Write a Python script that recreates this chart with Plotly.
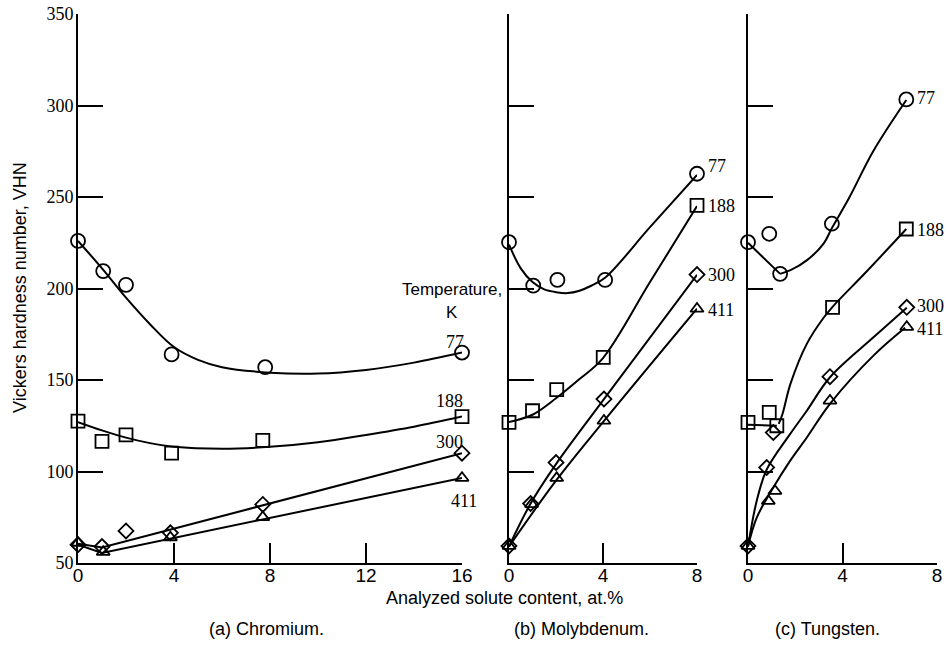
import plotly.graph_objects as go

# ---------------- data ----------------
temps = ["77", "188", "300", "411"]
symbols = ["circle-open", "square-open", "diamond-open", "triangle-up-open"]
msizes = [14, 13, 11.5, 11.5]

# (a) Chromium - measured points
cr_x77 = [0, 1.05, 2.0, 3.9, 7.8, 16.0]
cr_y77 = [226, 209.5, 202, 164, 157, 165]
cr_x188 = [0, 1.0, 2.0, 3.9, 7.7, 16.0]
cr_y188 = [127.5, 116.5, 120, 110, 117, 130]
cr_x300 = [0, 1.0, 2.0, 3.85, 7.7, 16.0]
cr_y300 = [60, 59, 67.5, 66.5, 82, 110]
cr_x411 = [0, 1.05, 3.85, 7.7, 16.0]
cr_y411 = [61, 56, 64, 75, 96.5]
# (a) Chromium - faired curves
cr_fx77 = [0, 1, 2, 3, 4, 5, 6, 8, 10, 12, 14, 16]
cr_fy77 = [226, 211, 195, 180.5, 168, 161, 157, 154, 153.5, 155.5, 159.5, 165]
cr_fx188 = [0, 1, 2, 3, 4, 6, 8, 10, 12, 14, 16]
cr_fy188 = [127, 122.5, 118.5, 115.5, 113.5, 112.5, 113.5, 116, 120, 124.5, 130]
cr_fx300 = [0, 1, 16]
cr_fy300 = [60.5, 58.5, 110]
cr_fx411 = [0, 1, 16]
cr_fy411 = [60, 55.5, 96.5]

# (b) Molybdenum - measured points
mo_x77 = [0, 1.03, 2.06, 4.09, 8.0]
mo_y77 = [225.3, 201.6, 204.7, 204.7, 262.7]
mo_x188 = [0, 1.0, 2.03, 4.01, 8.0]
mo_y188 = [126.8, 133.2, 144.7, 162.4, 245.4]
mo_x300 = [0, 0.92, 2.0, 4.04, 8.0]
mo_y300 = [59.3, 82.5, 104.9, 139.6, 207.6]
mo_x411 = [0, 0.96, 2.03, 4.04, 8.0]
mo_y411 = [59.3, 82.1, 96.4, 127.7, 188.9]
# (b) Molybdenum - faired curves
mo_fx77 = [0, 0.5, 1, 1.5, 2, 2.5, 3, 3.5, 4.1, 6, 8]
mo_fy77 = [224, 211, 203.5, 199.5, 198, 197.5, 198.8, 201.5, 206, 233.5, 262]
mo_fx188 = [0, 1, 2, 3, 4, 6, 8]
mo_fy188 = [127, 131, 140, 150.5, 162, 203.5, 245]
mo_fx300 = [0, 0.92, 2, 4.04, 8]
mo_fy300 = [59, 82.5, 104, 139.5, 207.5]
mo_fx411 = [0, 2, 4, 8]
mo_fy411 = [59, 95, 127, 189]

# (c) Tungsten - measured points
w_x77 = [0, 0.9, 1.36, 3.55, 6.7]
w_y77 = [225.3, 229.9, 208, 235.4, 303.3]
w_x188 = [0, 0.9, 1.22, 3.58, 6.7]
w_y188 = [126.8, 132.3, 125, 189.7, 232.5]
w_x300 = [0, 0.79, 1.07, 3.47, 6.72]
w_y300 = [59.3, 102.2, 121.3, 151.8, 189.7]
w_x411 = [0, 0.86, 1.14, 3.47, 6.72]
w_y411 = [59.3, 83.9, 89.4, 138.7, 179]
# (c) Tungsten - faired curves (split where the curve has a corner)
w_fx77a = [0, 1.36]
w_fy77a = [225, 208]
w_fx77b = [1.36, 1.8, 2.5, 3.2, 3.55, 4.3, 5.3, 6.7]
w_fy77b = [208, 210, 215.5, 224.5, 233, 250, 275, 303]
w_fx188a = [0, 1.22]
w_fy188a = [125.5, 125]
w_fx188b = [1.3, 1.45, 1.8, 2.5, 3.2, 3.58, 5, 6.7]
w_fy188b = [126, 131, 148, 170, 184, 190, 209, 232.5]
w_fx300 = [0, 0.37, 0.79, 1.78, 2.49, 3.47, 5.31, 6.72]
w_fy300 = [59, 84, 101, 120.4, 133.2, 151.5, 173.3, 189.5]
w_fx411 = [0, 0.37, 1.07, 1.78, 2.49, 3.47, 5.31, 6.65]
w_fy411 = [59, 74.8, 91.2, 105.8, 118.6, 137, 163.3, 178.5]

# curve-end labels (data coordinates of each panel)
cr_lab_x = [15.69, 15.46, 15.5, 16.1]
cr_lab_y = [170.7, 138.7, 116, 84]
mo_lab_x = [8.83, 9.04, 9.04, 9.0]
mo_lab_y = [267, 245.1, 207.4, 188]
w_lab_x = [7.52, 7.71, 7.71, 7.69]
w_lab_y = [304.2, 232, 190.4, 177.8]
legend_lab_x = [15.6, 15.6]
legend_lab_y = [199.4, 186.8]

y_range = [50, 350]
y_ticks = [50, 100, 150, 200, 250, 300, 350]
cr_range = [0, 16]
mo_range = [0, 8]
w_range = [0, 8]
cr_xticks = [0, 4, 8, 12, 16]
mo_xticks = [0, 4, 8]
w_xticks = [0, 4, 8]

panel_titles = ["(a) Chromium.", "(b) Molybdenum.", "(c) Tungsten."]
x_title = "Analyzed solute content, at.%"
y_title = "Vickers hardness number, VHN"
legend_title = ["Temperature,", "K"]

# ---------------- figure ----------------
SANS = "Liberation Sans Narrow, Liberation Sans, Arial, sans-serif"
SERIF = "Liberation Serif, Times New Roman, serif"
BLACK = "black"

fig = go.Figure()

panels = [
    ("x", "y", [(cr_x77, cr_y77), (cr_x188, cr_y188), (cr_x300, cr_y300), (cr_x411, cr_y411)],
     [(cr_fx77, cr_fy77), (cr_fx188, cr_fy188), (cr_fx300, cr_fy300), (cr_fx411, cr_fy411)],
     ["spline", "spline", "linear", "linear"]),
    ("x2", "y2", [(mo_x77, mo_y77), (mo_x188, mo_y188), (mo_x300, mo_y300), (mo_x411, mo_y411)],
     [(mo_fx77, mo_fy77), (mo_fx188, mo_fy188), (mo_fx300, mo_fy300), (mo_fx411, mo_fy411)],
     ["spline", "spline", "spline", "spline"]),
    ("x3", "y3", [(w_x77, w_y77), (w_x188, w_y188), (w_x300, w_y300), (w_x411, w_y411)],
     [(w_fx77a, w_fy77a), (w_fx77b, w_fy77b), (w_fx188a, w_fy188a), (w_fx188b, w_fy188b),
      (w_fx300, w_fy300), (w_fx411, w_fy411)],
     ["linear", "spline", "linear", "spline", "spline", "spline"]),
]

for xa, ya, pts, fits, shapes in panels:
    for (fx, fy), shp in zip(fits, shapes):
        fig.add_trace(go.Scatter(x=fx, y=fy, mode="lines", xaxis=xa, yaxis=ya,
                                 line=dict(color=BLACK, width=2, shape=shp, smoothing=1.0),
                                 showlegend=False, hoverinfo="skip", cliponaxis=False))
    for (px, py), sym, ms, t in zip(pts, symbols, msizes, temps):
        fig.add_trace(go.Scatter(x=px, y=py, mode="markers", xaxis=xa, yaxis=ya,
                                 marker=dict(symbol=sym, size=ms, color=BLACK,
                                             line=dict(color=BLACK, width=1.8)),
                                 name=t + " K", showlegend=False, cliponaxis=False))


def dom_x(v, rng):
    return (v - rng[0]) / (rng[1] - rng[0])


def dom_y(v):
    return (v - y_range[0]) / (y_range[1] - y_range[0])


def note(text, x, y, xref, yref, font, angle=0):
    fig.add_annotation(x=x, y=y, xref=xref, yref=yref, text=text, showarrow=False,
                       xanchor="center", yanchor="middle", textangle=angle, font=font)


serif_f = dict(family=SERIF, size=18, color=BLACK)
sans_f = dict(family=SANS, size=18, color=BLACK)

# curve labels (axis-domain references so labels beyond the axis end still show)
for xa, ya, rng, lx, ly in [("x", "y", cr_range, cr_lab_x, cr_lab_y),
                            ("x2", "y2", mo_range, mo_lab_x, mo_lab_y),
                            ("x3", "y3", w_range, w_lab_x, w_lab_y)]:
    for t, xx, yy in zip(temps, lx, ly):
        note(t, dom_x(xx, rng), dom_y(yy), xa + " domain", ya + " domain", serif_f)

for t, xx, yy in zip(legend_title, legend_lab_x, legend_lab_y):
    note(t, dom_x(xx, cr_range), dom_y(yy), "x domain", "y domain",
         dict(family=SANS, size=17, color=BLACK))

# titles
note(x_title, 0.497, -0.064, "paper", "paper", sans_f)
for t, px in zip(panel_titles, [0.22, 0.5867, 0.872]):
    note(t, px, -0.12, "paper", "paper", sans_f)
note(y_title, -0.0675, 0.501, "paper", "paper", sans_f, angle=-90)

common_x = dict(showline=True, linecolor=BLACK, linewidth=2, ticks="inside", ticklen=20,
                tickwidth=2, tickcolor=BLACK, showgrid=False, zeroline=False, automargin=False,
                ticklabelstandoff=-6, ticklabeloverflow="allow",
                tickfont=dict(family=SANS, size=19, color=BLACK), fixedrange=True)
common_y = dict(showline=True, linecolor=BLACK, linewidth=2, ticks="inside", ticklen=25,
                tickwidth=2, tickcolor=BLACK, showgrid=False, zeroline=False, automargin=False,
                range=y_range, tickvals=y_ticks, fixedrange=True, ticklabelstandoff=-1,
                ticklabeloverflow="allow",
                tickfont=dict(family=SERIF, size=18, color=BLACK))

fig.update_layout(
    template="none",
    width=947, height=646,
    margin=dict(l=78, r=10, t=14, b=83, pad=0),
    paper_bgcolor="white", plot_bgcolor="white",
    showlegend=False,
    xaxis=dict(domain=[0, 0.44703], range=cr_range, tickvals=cr_xticks, anchor="y", **common_x),
    xaxis2=dict(domain=[0.50175, 0.72061], range=mo_range, tickvals=mo_xticks, anchor="y2", **common_x),
    xaxis3=dict(domain=[0.77998, 1.0], range=w_range, tickvals=w_xticks, anchor="y3", **common_x),
    yaxis=dict(anchor="x", **common_y),
    yaxis2=dict(anchor="x2", showticklabels=False, **common_y),
    yaxis3=dict(anchor="x3", showticklabels=False, **common_y),
)

# remove the browser's default 8 px page margin so the figure fills the window exactly
fig.write_html("out.html",
               config={"displayModeBar": False},
               post_script="document.body.style.margin='0px';document.body.style.overflow='hidden';")
